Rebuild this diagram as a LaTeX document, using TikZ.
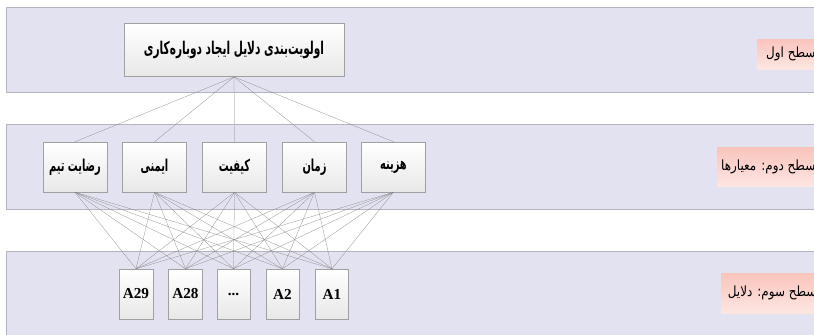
\documentclass[tikz,border=0pt]{standalone}
\usepackage{fontspec}
\setmainfont{Liberation Serif}
\newfontfamily\farsi[Script=Arabic, FakeStretch=0.6]{DejaVu Sans}
\newfontfamily\farsitag[Script=Arabic, FakeStretch=0.85]{DejaVu Sans}
\TeXXeTstate=1
\usetikzlibrary{positioning}
\definecolor{bandfill}{RGB}{227,226,240}
\definecolor{bandline}{RGB}{180,180,192}
\definecolor{boxline}{RGB}{160,160,160}
\definecolor{boxbot}{RGB}{232,232,232}
\definecolor{tagtop}{RGB}{249,196,188}
\definecolor{tagbot}{RGB}{253,230,226}
\definecolor{linkgray}{RGB}{130,130,130}
\tikzset{
    band/.style={
        fill=bandfill, draw=bandline
    },
    box/.style={
        draw=boxline, top color=white, bottom color=boxbot,
        minimum height=1.5cm, align=center,
        font=\fontsize{14}{16}\selectfont\farsi\bfseries
    },
    cause/.style={
        box, minimum width=1.0cm,
        font=\fontsize{13}{15}\selectfont\bfseries
    },
    tag/.style={
        top color=tagtop, bottom color=tagbot,
        anchor=west, inner ysep=0pt, minimum height=0.9cm,
        font=\fontsize{12}{14}\selectfont\farsitag
    },
    link/.style={
        draw=linkgray, very thin
    }
}

\begin{document}
\begin{tikzpicture}[x=0.03cm, y=-0.03cm]

\path[use as bounding box, clip] (0,0) rectangle (814,334);

% Bands
\path[band] (6,7) rectangle (830,92);
\path[band] (6,124) rectangle (830,209);
\path[band] (6,251) rectangle (830,345);

% Level tags
\node[tag, inner xsep=0.27cm] (tag1) at (757,54) {\beginR سطح اول\endR};
\node[tag, minimum height=1.17cm, inner xsep=0.12cm] (tag2) at (717,167) {\beginR سطح دوم: معیارها\endR};
\node[tag, minimum height=1.2cm, inner xsep=0.2cm] (tag3) at (721,293) {\beginR سطح سوم: دلایل\endR};

% Goal
\node[box, minimum width=6.6cm, minimum height=1.6cm,
      font=\fontsize{15}{17}\selectfont\farsi\bfseries] (goal) at (234,50)
    {\beginR اولویت‌بندی دلایل ایجاد دوباره‌کاری\endR};

% Criteria
\node[box, minimum width=1.92cm] (team) at (75,167) {\beginR رضایت تیم\endR};
\node[box, minimum width=1.92cm] (safety) at (154.5,167) {\beginR ایمنی\endR};
\node[box, minimum width=1.92cm] (quality) at (234.5,167) {\beginR کیفیت\endR};
\node[box, minimum width=1.92cm] (time) at (314.5,167) {\beginR زمان\endR};
\node[box, minimum width=1.92cm] (cost) at (393.5,167) {\beginR هزینه\endR};

% Causes
\node[cause] (a29) at (136,294) {A29};
\node[cause] (a28) at (185.5,294) {A28};
\node[cause] (adots) at (233.5,294) {...};
\node[cause] (a2) at (282.5,294) {A2};
\node[cause] (a1) at (332,294) {A1};

% Links goal -> criteria
\foreach \c in {team,safety,quality,time,cost}
    \draw[link] (goal.south) -- (\c.north);

% Links criteria -> causes
\foreach \c in {team,safety,quality,time,cost}
    \foreach \a in {a29,a28,adots,a2,a1}
        \draw[link] (\c.south) -- (\a.north);

\end{tikzpicture}
\end{document}
